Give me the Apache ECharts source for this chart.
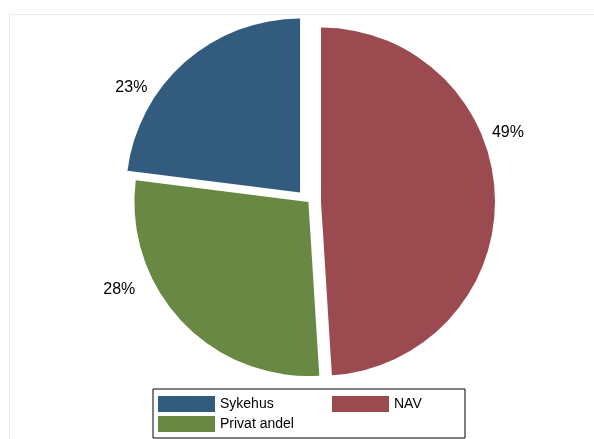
<!DOCTYPE html>
<html>
<head>
<meta charset="utf-8">
<script src="https://cdn.jsdelivr.net/npm/echarts@6/dist/echarts.min.js"></script>
<style>
html,body{margin:0;padding:0;background:#fff;}
#chart{width:594px;height:439px;}
</style>
</head>
<body>
<div id="chart"></div>
<script>
// Data (drawing order: clockwise from 12 o'clock)
var categories = ['NAV', 'Privat andel', 'Sykehus'];
var values = [49, 28, 23];
var exploded = [true, false, true];
var colors = ['#9b4a4f', '#698843', '#335b7e'];
var legendOrder = ['Sykehus', 'NAV', 'Privat andel'];
// label nudges relative to ECharts' outside label position
var labelNudge = [{dx: -18, dy: -63}, {dx: -34, dy: -38}, {dx: -26, dy: 33}];

var FONT = '"Liberation Sans", Arial, Helvetica, sans-serif';
var chart = echarts.init(document.getElementById('chart'), null, {renderer: 'canvas'});

var pieData = categories.map(function (c, i) {
  return {name: c, value: values[i], selected: exploded[i], itemStyle: {color: colors[i]}};
});

var legendWidths = {'Sykehus': 108, 'NAV': 60, 'Privat andel': 108};

chart.setOption({
  animation: false,
  backgroundColor: '#ffffff',
  graphic: [{
    type: 'rect',
    shape: {x: 9.5, y: 14.5, width: 620, height: 460},
    style: {fill: 'none', stroke: '#e6eded', lineWidth: 1},
    silent: true,
    z: -10
  }],
  legend: {
    left: 153,
    top: 389,
    orient: 'horizontal',
    width: 300,
    itemWidth: 57,
    itemHeight: 16,
    itemGap: 4,
    padding: [7, 11, 6, 5],
    borderColor: '#000',
    borderWidth: 1,
    borderRadius: 0,
    backgroundColor: '#fff',
    selectedMode: false,
    icon: 'rect',
    data: legendOrder.map(function (n) {
      return {name: n, textStyle: {width: legendWidths[n], fontSize: 14, lineHeight: 16, color: '#000', fontFamily: FONT}};
    }),
    textStyle: {fontSize: 14, color: '#000', fontFamily: FONT}
  },
  series: [{
    type: 'pie',
    center: [308.4, 202],
    radius: [0, 174],
    startAngle: 90,
    clockwise: true,
    selectedMode: 'multiple',
    selectedOffset: 12.6,
    avoidLabelOverlap: false,
    emphasis: {disabled: true},
    itemStyle: {borderWidth: 0},
    label: {
      show: true,
      position: 'outside',
      formatter: function (p) { return p.value + '%'; },
      fontSize: 16,
      color: '#000',
      fontFamily: FONT
    },
    labelLine: {show: false, length: 10, length2: 0},
    labelLayout: function (p) { return labelNudge[p.dataIndex]; },
    data: pieData
  }]
});
</script>
</body>
</html>
